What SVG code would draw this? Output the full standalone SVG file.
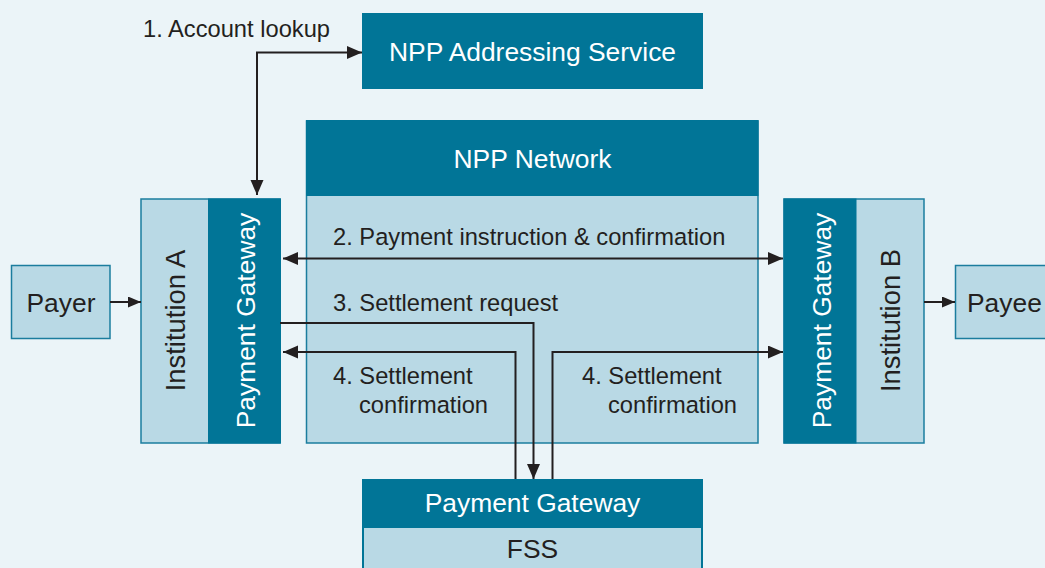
<svg xmlns="http://www.w3.org/2000/svg" width="1045" height="568" viewBox="0 0 1045 568">
<defs>
<style>
.dark{fill:#017597;}
.light{fill:#B9D9E5;stroke:#1B7D9E;stroke-width:1.5;}
.wt{fill:#FFFFFF;font-family:"Liberation Sans",Arial,sans-serif;font-size:26.4px;}
.bt{fill:#231F20;font-family:"Liberation Sans",Arial,sans-serif;font-size:26.4px;}
.inst{font-size:27.4px;}
.lbl{fill:#231F20;font-family:"Liberation Sans",Arial,sans-serif;font-size:23.7px;}
.c{text-anchor:middle;}
.ln{fill:none;stroke:#231F20;stroke-width:2;}
</style>
<marker id="ah" markerUnits="userSpaceOnUse" markerWidth="16" markerHeight="14" refX="15" refY="6.5" orient="auto-start-reverse" viewBox="0 0 16 14">
<path d="M0,0 L15,6.5 L0,13 Z" fill="#231F20"/>
</marker>
<marker id="ahs" markerUnits="userSpaceOnUse" markerWidth="14" markerHeight="12" refX="13" refY="5.5" orient="auto" viewBox="0 0 14 12">
<path d="M0,0 L13,5.5 L0,11 Z" fill="#231F20"/>
</marker>
</defs>
<rect width="1045" height="568" fill="#EBF4F8"/>

<g id="addressing">
<rect class="dark" x="362" y="13" width="341" height="76"/>
<text class="wt c" x="532.5" y="61">NPP Addressing Service</text>
</g>

<g id="network">
<rect class="light" x="306.5" y="121" width="451.5" height="322"/>
<rect class="dark" x="306" y="120" width="452.5" height="76"/>
<text class="wt c" x="532.5" y="168">NPP Network</text>
</g>

<g id="payer">
<rect class="light" x="11.5" y="265.5" width="98.5" height="73"/>
<text class="bt c" x="61" y="311.5">Payer</text>
</g>

<g id="payee">
<rect class="light" x="955.5" y="265.5" width="95" height="73"/>
<text class="bt" x="967" y="311.5">Payee</text>
</g>

<g id="institutionA">
<rect class="light" x="141" y="199" width="139" height="244"/>
<rect class="dark" x="208" y="198.5" width="73" height="245"/>
<text class="bt inst c" transform="translate(185,320.5) rotate(-90)">Institution A</text>
<text class="wt c" transform="translate(255,320.5) rotate(-90)">Payment Gateway</text>
</g>

<g id="institutionB">
<rect class="light" x="784" y="199" width="140" height="244"/>
<rect class="dark" x="783.5" y="198.5" width="73" height="245"/>
<text class="wt c" transform="translate(831,320.5) rotate(-90)">Payment Gateway</text>
<text class="bt inst c" transform="translate(900,320.5) rotate(-90)">Institution B</text>
</g>

<g id="fss">
<rect class="dark" x="362" y="479" width="341" height="95"/>
<rect fill="#B9D9E5" x="364" y="528" width="337" height="50"/>
<text class="wt c" x="532.5" y="512">Payment Gateway</text>
<text class="bt c" x="532.5" y="558">FSS</text>
</g>

<g id="connectors">
<path class="ln" d="M257,195 L257,52.5 L362,52.5" marker-start="url(#ah)" marker-end="url(#ah)"/>
<path class="ln" d="M283,258.5 L783,258.5" marker-start="url(#ah)" marker-end="url(#ah)"/>
<path class="ln" d="M280,323 L533.5,323 L533.5,479" marker-end="url(#ah)"/>
<path class="ln" d="M515.5,479 L515.5,352 L283,352" marker-end="url(#ah)"/>
<path class="ln" d="M552.5,479 L552.5,352 L783,352" marker-end="url(#ah)"/>
<path class="ln" d="M110,302 L141,302" marker-end="url(#ahs)"/>
<path class="ln" d="M924,302 L955,302" marker-end="url(#ahs)"/>
</g>

<g id="labels">
<text class="lbl" x="143" y="37">1. Account lookup</text>
<text class="lbl" x="333" y="245">2. Payment instruction &amp; confirmation</text>
<text class="lbl" x="333" y="310.5">3. Settlement request</text>
<text class="lbl" x="333" y="384">4. Settlement</text>
<text class="lbl" x="359" y="412.5">confirmation</text>
<text class="lbl" x="582" y="384">4. Settlement</text>
<text class="lbl" x="608" y="412.5">confirmation</text>
</g>
</svg>
